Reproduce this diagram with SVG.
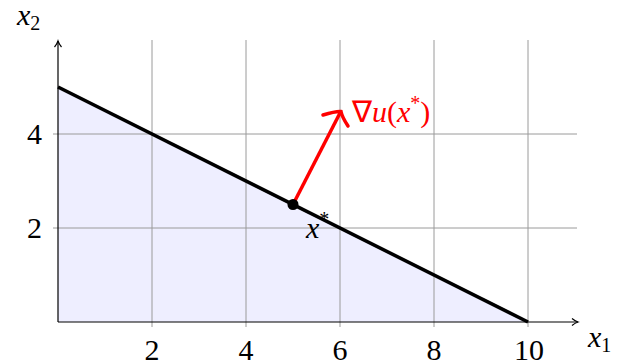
<svg xmlns="http://www.w3.org/2000/svg" width="631" height="360" viewBox="0 0 631 360">
<defs>
<marker id="ah" markerWidth="10" markerHeight="10" refX="8" refY="5" orient="auto" markerUnits="userSpaceOnUse">
<path d="M2,1.5 Q5,4 8,5 Q5,6 2,8.5" fill="none" stroke="#000" stroke-width="1.2"/>
</marker>
</defs>
<rect width="631" height="360" fill="#fff"/>
<polygon id="region" points="58,322 58,87 528,322" fill="#eeeeff"/>
<path id="grid" stroke="#9a9a9a" stroke-width="1" fill="none" d="M152,40V327M246,40V327M340,40V327M434,40V327M528,40V327M53,134H577M53,228H577"/>
<g id="axes" stroke="#000" stroke-width="1.2" fill="none">
<line x1="58" y1="322" x2="578" y2="322" marker-end="url(#ah)"/>
<line x1="58" y1="322" x2="58" y2="41" marker-end="url(#ah)"/>
</g>
<text style="font-family:'Liberation Serif',serif;font-size:30px" x="152" y="360" text-anchor="middle">2</text>
<text style="font-family:'Liberation Serif',serif;font-size:30px" x="246" y="360" text-anchor="middle">4</text>
<text style="font-family:'Liberation Serif',serif;font-size:30px" x="340" y="360" text-anchor="middle">6</text>
<text style="font-family:'Liberation Serif',serif;font-size:30px" x="434" y="360" text-anchor="middle">8</text>
<text style="font-family:'Liberation Serif',serif;font-size:30px" x="529" y="360" text-anchor="middle">10</text>
<text style="font-family:'Liberation Serif',serif;font-size:30px" x="42" y="144" text-anchor="end">4</text>
<text style="font-family:'Liberation Serif',serif;font-size:30px" x="42" y="238" text-anchor="end">2</text>
<text style="font-family:'Liberation Serif',serif;font-size:30px" x="588" y="347"><tspan font-style="italic">x</tspan><tspan style="font-size:20px" dy="5">1</tspan></text>
<text style="font-family:'Liberation Serif',serif;font-size:30px" x="17" y="25"><tspan font-style="italic">x</tspan><tspan style="font-size:20px" dy="5">2</tspan></text>
<line id="budget" x1="58" y1="87" x2="528" y2="322" stroke="#000" stroke-width="3.5"/>
<g id="connectors">
<line x1="293" y1="204.5" x2="340" y2="113" stroke="#ff0000" stroke-width="3.5"/>
<path d="M323,115 Q336,111 341,111.5 Q342,117 348,126" fill="none" stroke="#ff0000" stroke-width="3.5" stroke-linecap="round"/>
</g>
<g id="xstar">
<circle cx="293" cy="204.5" r="5.5" fill="#000"/>
<text style="font-family:'Liberation Serif',serif;font-size:30px" x="306" y="238"><tspan font-style="italic">x</tspan><tspan style="font-size:20px" dy="-12">*</tspan></text>
</g>
<text id="gradlabel" style="font-family:'Liberation Serif',serif;font-size:30px;fill:#ff0000" x="352" y="122">∇<tspan font-style="italic">u</tspan>(<tspan font-style="italic">x</tspan><tspan style="font-size:20px" dy="-12">*</tspan><tspan dy="12">)</tspan></text>
</svg>
